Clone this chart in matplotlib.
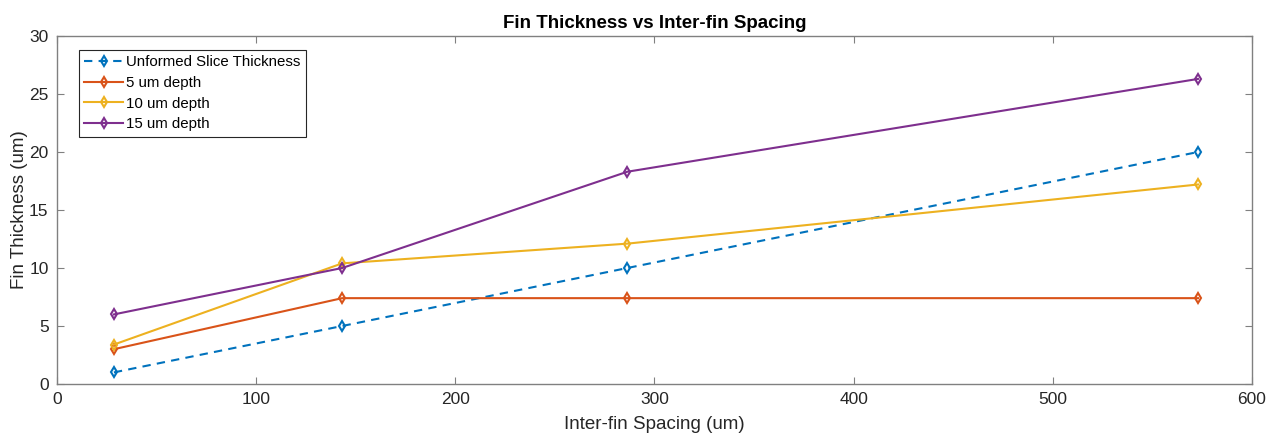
import numpy as np
import matplotlib.pyplot as plt

plt.rcParams['font.family'] = ['Liberation Sans', 'DejaVu Sans']

# Datos
spacing = [28.6, 143.2, 286.4, 572.9]
unformed = [1.0, 5.0, 10.0, 20.0]
depth5 = [3.0, 7.4, 7.4, 7.4]
depth10 = [3.4, 10.4, 12.1, 17.2]
depth15 = [6.0, 10.0, 18.3, 26.3]

labels = ['Unformed Slice Thickness', '5 um depth', '10 um depth', '15 um depth']
colors = ['#0072BD', '#D95319', '#EDB120', '#7E2F8E']

fig = plt.figure(figsize=(12.77, 4.37), dpi=100)
ax = fig.add_axes([0.0446, 0.1213, 0.9358, 0.7963])

ax.plot(spacing, unformed, '--d', color=colors[0], label=labels[0],
        mfc='none', mew=1.5, ms=5.5, lw=1.5, dashes=(4, 3))
ax.plot(spacing, depth5, '-d', color=colors[1], label=labels[1], mfc='none', mew=1.5, ms=5.5, lw=1.5)
ax.plot(spacing, depth10, '-d', color=colors[2], label=labels[2], mfc='none', mew=1.5, ms=5.5, lw=1.5)
ax.plot(spacing, depth15, '-d', color=colors[3], label=labels[3], mfc='none', mew=1.5, ms=5.5, lw=1.5)

ax.set_xlim(0, 600)
ax.set_ylim(0, 30)
ax.set_xticks(np.arange(0, 601, 100))
ax.set_yticks(np.arange(0, 31, 5))
ax.tick_params(direction='in', top=True, right=True, labelsize=12.5, labelcolor='#262626',
               color='#808080', length=5, pad=6)
for s in ax.spines.values():
    s.set_color('#808080')
    s.set_linewidth(1)

ax.set_title('Fin Thickness vs Inter-fin Spacing', fontsize=13.5, fontweight='bold')
ax.set_xlabel('Inter-fin Spacing (um)', fontsize=13.5, color='#262626', labelpad=6)
ax.set_ylabel('Fin Thickness (um)', fontsize=13.5, color='#262626', labelpad=1)
leg = ax.legend(loc='upper left', bbox_to_anchor=(0.0184, 0.96), fontsize=10.8, fancybox=False,
                edgecolor='#262626', framealpha=1, handlelength=2.6, borderpad=0.35,
                labelspacing=0.45, handletextpad=0.2, borderaxespad=0)
leg.get_frame().set_linewidth(0.8)

fig.savefig('out.png', dpi=100)
